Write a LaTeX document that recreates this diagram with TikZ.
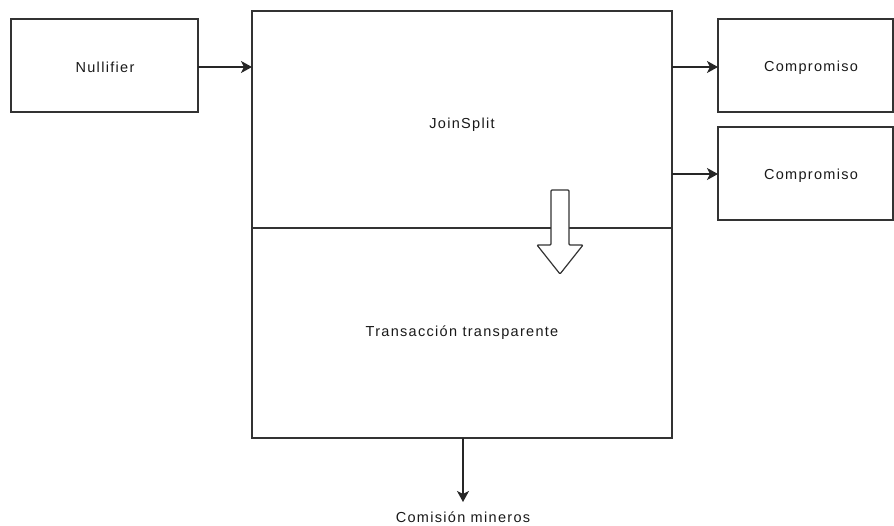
\documentclass[tikz,border=0pt]{standalone}
\usepackage{fontspec}
\setmainfont{Liberation Sans}[LetterSpace=9]
\usetikzlibrary{arrows.meta}
\begin{document}
\begin{tikzpicture}[x=1pt,y=-1pt,
  box/.style={draw=black!80,line width=1.3pt},
  conn/.style={draw=black!85,line width=1.2pt,-{Stealth[length=11pt,width=12pt,inset=3pt]}},
  lbl/.style={font=\fontsize{14.5}{16}\selectfont,inner sep=0pt,text=black!90}]
\useasboundingbox (0,0) rectangle (894,525);
\draw[box] (11,19) rectangle (198,112);
\node[lbl] (nul) at (105,67) {Nullifier};
\coordinate (nulR) at (198,67);
\draw[box] (252,11) rectangle (672,438);
\coordinate (bigL) at (252,67);
\draw[box] (252,228) -- (672,228);
\node[lbl] (js) at (462,125) {JoinSplit};
\node[lbl] (tt) at (462,333) {Transacción transparente};
\draw[box] (718,19) rectangle (893,112);
\node[lbl] (c1) at (811,68) {Compromiso};
\draw[box] (718,127) rectangle (893,220);
\node[lbl] (c2) at (811,176) {Compromiso};
\coordinate (r1a) at (672,67);
\coordinate (r1b) at (718,67);
\coordinate (r2a) at (672,174);
\coordinate (r2b) at (718,174);
\draw[conn] (nulR) -- (bigL);
\draw[conn] (r1a) -- (r1b);
\draw[conn] (r2a) -- (r2b);
\draw[draw=black!80,line width=1.2pt,fill=white,rounded corners=1pt]
  (551,190) -- (569,190) -- (569,245) -- (583,245) -- (560,274) -- (537,245) -- (551,245) -- cycle;
\coordinate (bot) at (463,438);
\node[lbl] (com) at (463,517) {Comisión mineros};
\draw[conn] (bot) -- (463,502);
\end{tikzpicture}
\end{document}
